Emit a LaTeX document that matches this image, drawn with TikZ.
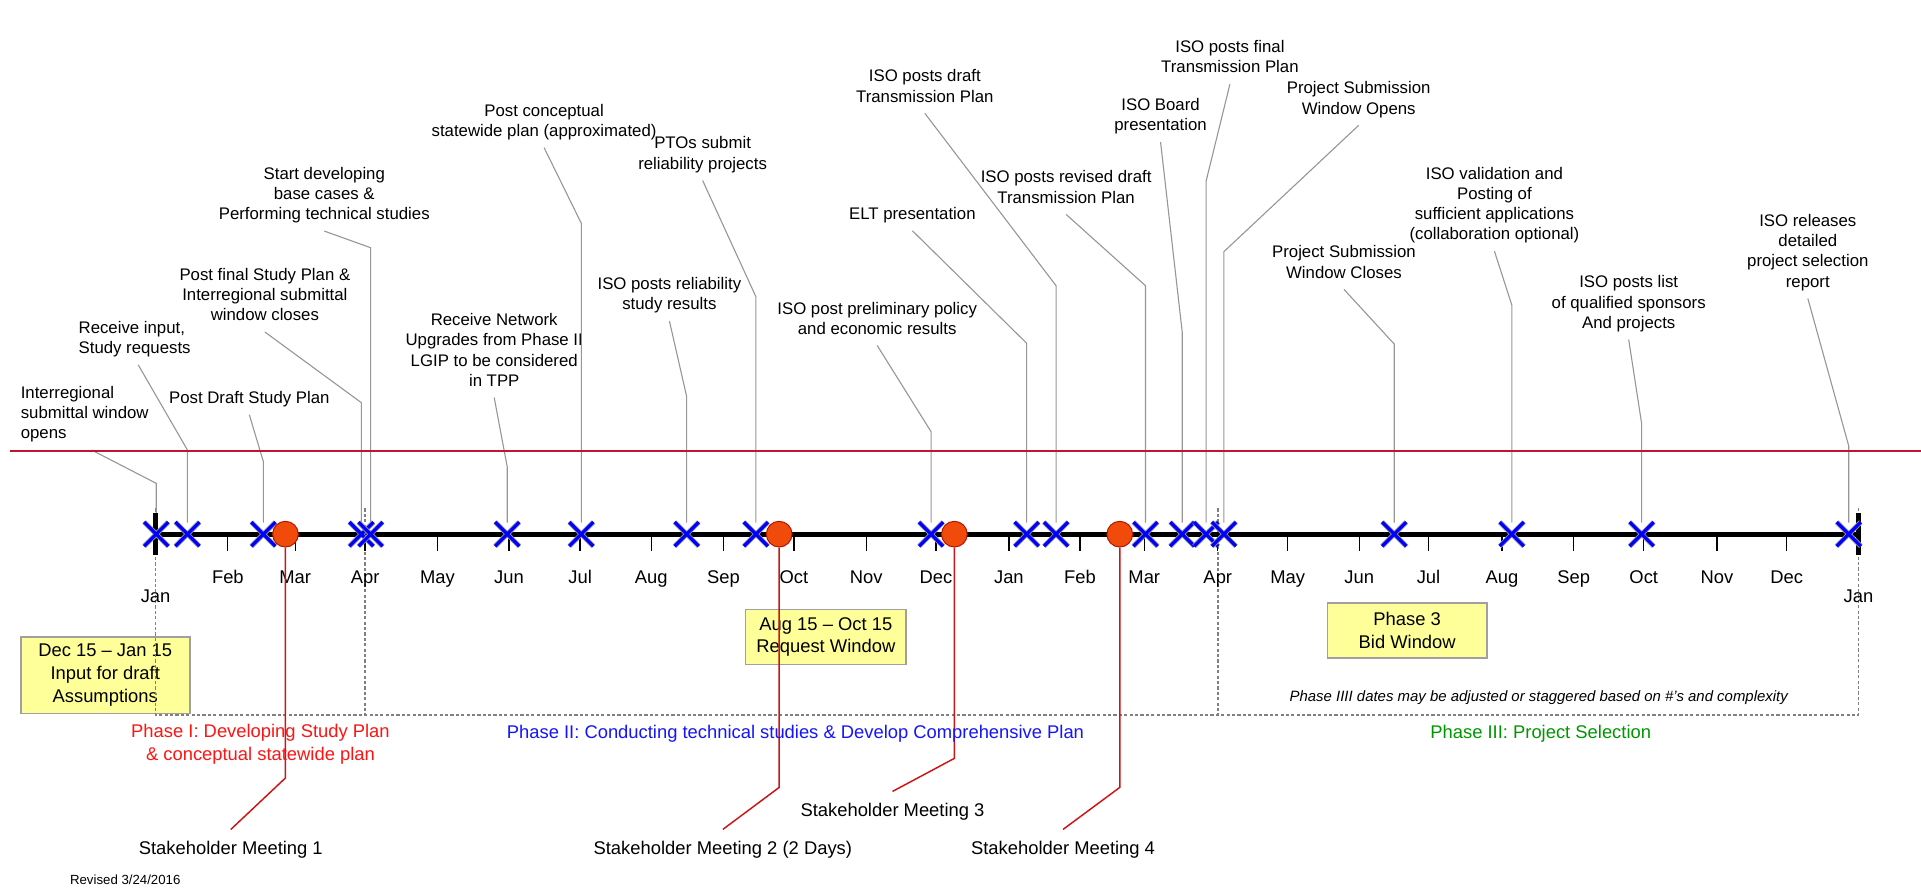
\documentclass[tikz,border=0pt]{standalone}
\usepackage{fontspec}
\setmainfont{Liberation Sans}
\usetikzlibrary{shapes.misc}
\definecolor{leadgray}{RGB}{150,150,150}
\definecolor{dashgray}{RGB}{128,128,128}
\definecolor{hline}{RGB}{192,20,50}
\definecolor{smred}{RGB}{204,20,20}
\definecolor{dotfill}{RGB}{240,75,10}
\definecolor{dotdraw}{RGB}{180,20,0}
\definecolor{boxfill}{RGB}{255,255,153}
\definecolor{boxdraw}{RGB}{160,160,160}
\definecolor{phgreen}{RGB}{0,150,0}
\definecolor{phblue}{RGB}{20,20,255}
\definecolor{phred}{RGB}{255,20,20}
\begin{document}
\begin{tikzpicture}[x=1pt,y=-1pt,
 lbl/.style={font=\fontsize{13.7}{16.5}\selectfont, align=center, inner xsep=0pt, inner ysep=5.5pt, text depth=3.5pt, anchor=south},
 lbll/.style={lbl, align=left, anchor=south west},
 leader/.style={draw=leadgray, line width=0.9pt},
 xmark/.style={cross out, draw=gray!80, double=blue, double distance=2.6pt, line width=0.7pt, minimum size=19pt, inner sep=0pt},
 dot/.style={circle, fill=dotfill, draw=dotdraw, line width=0.8pt, minimum size=21pt, inner sep=0pt},
 month/.style={font=\fontsize{15}{18}\selectfont, inner sep=0pt, text height=11pt, text depth=3pt},
 tickmark/.style={line width=1pt},
 endbar/.style={line width=3.6pt},
 axisline/.style={line width=4pt},
 phasedash/.style={draw=dashgray, line width=1.3pt, dash pattern=on 2.6pt off 1.8pt},
 ybox/.style={draw=boxdraw, fill=boxfill, line width=1.3pt, font=\fontsize{15}{18.7}\selectfont, align=center, inner sep=0pt},
 smlbl/.style={font=\fontsize{15}{18}\selectfont, inner xsep=0pt, inner ysep=9.4pt, text height=11pt, text depth=3pt, anchor=north},
 smline/.style={draw=smred, line width=1.2pt},
 phase/.style={font=\fontsize{15}{18.5}\selectfont, align=center, inner sep=0pt},
]
\useasboundingbox (0,0) rectangle (1568,726);

% yellow boxes
\node[ybox, minimum width=138pt, minimum height=62.6pt] (b1) at (85.9,551) {Dec 15 -- Jan 15\\Input for draft\\Assumptions};
\node[ybox, minimum width=131.2pt, minimum height=44.9pt] (b2) at (674.1,519.9) {Aug 15 -- Oct 15\\Request Window};
\node[ybox, minimum width=130.2pt, minimum height=45pt] (b3) at (1148.6,514.5) {Phase 3\\Bid Window};

% phase frame (dashed)
\coordinate (f0t) at (127,415); \coordinate (f0b) at (127,583.6);
\coordinate (f1t) at (298,415); \coordinate (f1b) at (298,583.6);
\coordinate (f2t) at (994,415); \coordinate (f2b) at (994,583.6);
\coordinate (f3t) at (1517,415); \coordinate (f3b) at (1517,583.6);
\draw[phasedash] (f0t) -- (f0b) -- (f3b) -- (f3t);
\draw[phasedash] (f1t) -- (f1b);
\draw[phasedash] (f2t) -- (f2b);

% top labels
\node[lbll] (l1) at (16.8,367.3) {Interregional\\submittal window\\opens};
\node[lbll] (l2) at (64,297.9) {Receive input,\\Study requests};
\node[lbl] (l3) at (203.5,338.5) {Post Draft Study Plan};
\node[lbl] (l4) at (216.2,271) {Post final Study Plan \&\\Interregional submittal\\window closes};
\node[lbl] (l5) at (264.7,188.6) {Start developing\\base cases \&\\Performing technical studies};
\node[lbl] (l6) at (403.4,324.5) {Receive Network\\Upgrades from Phase II\\LGIP to be considered\\in TPP};
\node[lbl] (l7) at (444.1,120.5) {Post conceptual\\statewide plan (approximated)};
\node[lbl] (l8) at (546.4,262) {ISO posts reliability\\study results};
\node[lbl] (l9) at (573.5,147.3) {PTOs submit\\reliability projects};
\node[lbl] (l10) at (716,282) {ISO post preliminary policy\\and economic results};
\node[lbl] (l11) at (744.7,188.3) {ELT presentation};
\node[lbl] (l12) at (754.9,92.5) {ISO posts draft\\Transmission Plan};
\node[lbl] (l13) at (870.2,175) {ISO posts revised draft\\Transmission Plan};
\node[lbl] (l14) at (947.3,116) {ISO Board\\presentation};
\node[lbl] (l15) at (1003.9,68.7) {ISO posts final\\Transmission Plan};
\node[lbl] (l16) at (1109,102.3) {Project Submission\\Window Opens};
\node[lbl] (l17) at (1097,236.2) {Project Submission\\Window Closes};
\node[lbl] (l18) at (1219.8,205) {ISO validation and\\Posting of\\sufficient applications\\(collaboration optional)};
\node[lbl] (l19) at (1329.4,277.2) {ISO posts list\\of qualified sponsors\\And projects};
\node[lbl] (l20) at (1475.6,243.6) {ISO releases\\detailed\\project selection\\report};

% axis
\coordinate (axs) at (127,436); \coordinate (axe) at (1517,436);
\coordinate (bs0) at (127,419); \coordinate (bs1) at (127,453);
\coordinate (be0) at (1517,419); \coordinate (be1) at (1517,453);
\foreach \x/\m [count=\i] in {186/Feb,241/Mar,298/Apr,357/May,415.4/Jun,473.5/Jul,531.5/Aug,590.5/Sep,648/Oct,707/Nov,764/Dec,823.5/Jan,881.5/Feb,934/Mar,994/Apr,1051/May,1109.5/Jun,1166/Jul,1226/Aug,1284.5/Sep,1341.7/Oct,1401.5/Nov,1458.4/Dec}{
  \draw[tickmark] (\x,436) -- (\x,449.5);
  \node[month] (mo\i) at (\x,472) {\m};
}
\node[month] (jan0) at (127,487.6) {Jan};
\node[month] (jan1) at (1517,487.6) {Jan};

% markers
\foreach \i/\x in {1/127.5,2/153,3/215,4/295,5/302.5,6/414,7/474.5,8/560.5,9/617,10/760,11/838,12/862,13/935,14/965,15/984.5,16/999,17/1138,18/1234,19/1340,20/1509}{
  \coordinate (xp\i) at (\x,436);
}

% leaders
\draw[leader] ([xshift=5.6pt]l1.south) -- (xp1 |- 0,394.5) -- ([yshift=9.5pt]xp1);
\draw[leader] ([xshift=3pt]l2.south) -- (xp2 |- 0,367.3) -- ([yshift=9.5pt]xp2);
\foreach \i/\ey in {3/376.9,4/328.7,5/202.2,6/381,7/182.3,8/323.8,9/242.2,10/352.4,11/280.2,12/233.2,13/233.2,14/271.3,15/147.7,16/205.4,17/280.8,18/249,19/346,20/364}{
  \draw[leader] (l\i.south) -- (xp\i |- 0,\ey) -- ([yshift=9.5pt]xp\i);
}

% red horizontal line
\coordinate (rl0) at (8,368); \coordinate (rl1) at (1568,368);
\draw[draw=hline, line width=1.5pt] (rl0) -- (rl1);

\draw[axisline] (axs) -- (axe);
\draw[endbar] (bs0) -- (bs1);
\draw[endbar] (be0) -- (be1);

\foreach \i in {1,...,20}{
  \node[xmark] (x\i) at (xp\i) {};
}

% stakeholder meetings
\node[dot] (c1) at (233,436) {};
\node[dot] (c2) at (636,436) {};
\node[dot] (c3) at (779,436) {};
\node[dot] (c4) at (914,436) {};
\node[smlbl] (sm1) at (188.4,677) {Stakeholder Meeting 1};
\node[smlbl] (sm2) at (590,677) {Stakeholder Meeting 2 (2 Days)};
\node[smlbl] (sm3) at (728.5,646) {Stakeholder Meeting 3};
\node[smlbl] (sm4) at (867.7,677) {Stakeholder Meeting 4};
\draw[smline] (c1.south) -- (c1.south |- 0,635) -- (sm1.north);
\draw[smline] (c2.south) -- (c2.south |- 0,642.7) -- (sm2.north);
\draw[smline] (c3.south) -- (c3.south |- 0,619) -- (sm3.north);
\draw[smline] (c4.south) -- (c4.south |- 0,642.7) -- (sm4.north);

% phases
\node[phase, text=phred] (p1) at (212.6,607.7) {Phase I: Developing Study Plan\\\& conceptual statewide plan};
\node[phase, text=phblue] (p2) at (649.3,598.5) {Phase II: Conducting technical studies \& Develop Comprehensive Plan};
\node[phase, text=phgreen] (p3) at (1257.6,598.5) {Phase III: Project Selection};
\node[font=\fontsize{12.2}{14}\selectfont\itshape, inner sep=0pt] (note) at (1256,569.5) {Phase IIII dates may be adjusted or staggered based on \#'s and complexity};
\node[font=\fontsize{10.8}{13}\selectfont, inner sep=0pt, anchor=west] (rev) at (57,718) {Revised 3/24/2016};
\end{tikzpicture}
\end{document}
